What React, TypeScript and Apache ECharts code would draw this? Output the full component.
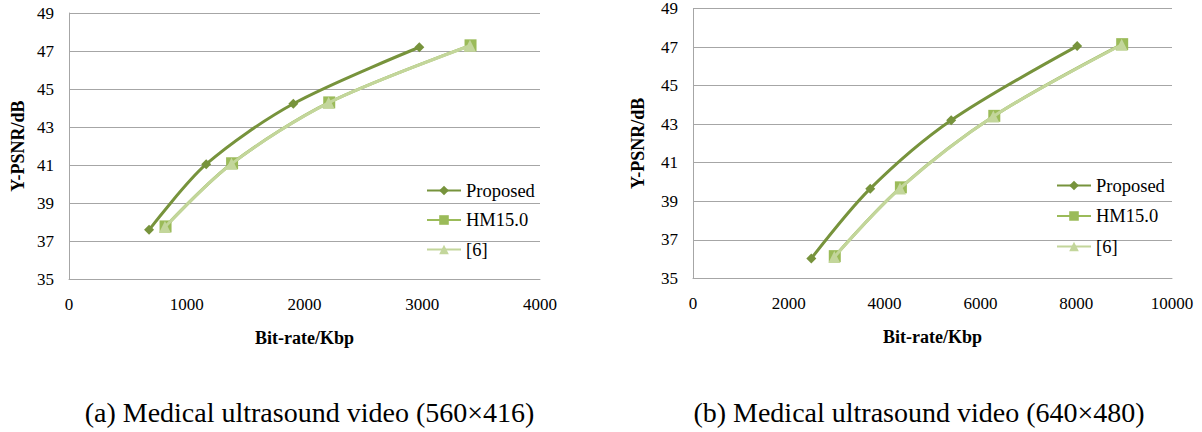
import React, { useEffect, useRef } from "react";
import * as echarts from "echarts";

// ---- data ----
const seriesNames = ["Proposed", "HM15.0", "[6]"];
const seriesColors = ["#77933C", "#9BBB59", "#C3D69B"];
const seriesSymbols = ["diamond", "rect", "triangle"];

// (a) 560x416
const aProposed = [[680, 37.6], [1165, 41.05], [1905, 44.23], [2975, 47.2]];
const aHM = [[820, 37.78], [1385, 41.1], [2210, 44.3], [3410, 47.3]];
const aRef6 = [[815, 37.75], [1380, 41.07], [2205, 44.28], [3405, 47.28]];

// (b) 640x480
const bProposed = [[2470, 36.03], [3700, 39.65], [5390, 43.2], [8020, 47.05]];
const bHM = [[2960, 36.15], [4340, 39.72], [6290, 43.43], [8960, 47.15]];
const bRef6 = [[2950, 36.1], [4320, 39.66], [6270, 43.4], [8950, 47.12]];

const yMin = 35;
const yMax = 49;
const yStep = 2;
const aXMax = 4000;
const aXStep = 1000;
const bXMax = 10000;
const bXStep = 2000;

const xName = "Bit-rate/Kbp";
const yName = "Y-PSNR/dB";
const captions = [
  "(a) Medical ultrasound video (560×416)",
  "(b) Medical ultrasound video (640×480)",
];

const FONT = "Liberation Serif";
const GRID_COLOR = "#A6A6A6";

export default function App() {
  const ref = useRef<HTMLDivElement>(null);

  useEffect(() => {
    if (!ref.current) return;
    const chart = echarts.init(ref.current, undefined, { renderer: "svg" });

    const grids = [
      { left: 69, top: 13, width: 471, height: 266.3 },
      { left: 693, top: 5.7, width: 479, height: 272.6 },
    ];

    const makeX = (gi: number, max: number, step: number, gap: number) => ({
      type: "value",
      gridIndex: gi,
      min: 0,
      max,
      interval: step,
      name: xName,
      nameLocation: "middle",
      nameGap: gap,
      nameTextStyle: { fontFamily: FONT, fontSize: 18, fontWeight: "bold", color: "#000" },
      axisLine: { show: true, lineStyle: { color: GRID_COLOR, width: 1 } },
      axisTick: { show: false },
      splitLine: { show: false },
      axisLabel: {
        fontFamily: FONT,
        fontSize: 17,
        color: "#000",
        margin: 17,
        formatter: (v: number) => String(v),
      },
    });

    const makeY = (gi: number, gap: number) => ({
      type: "value",
      gridIndex: gi,
      min: yMin,
      max: yMax,
      interval: yStep,
      name: yName,
      nameLocation: "middle",
      nameRotate: 90,
      nameGap: gap,
      nameTextStyle: { fontFamily: FONT, fontSize: 18, fontWeight: "bold", color: "#000" },
      axisLine: { show: true, lineStyle: { color: GRID_COLOR, width: 1 } },
      axisTick: { show: false },
      splitLine: { show: true, lineStyle: { color: GRID_COLOR, width: 1 } },
      axisLabel: {
        fontFamily: FONT,
        fontSize: 17,
        color: "#000",
        margin: 15,
        formatter: (v: number) => String(v),
      },
    });

    const mk = (name: string, idx: number, gi: number, data: number[][]) => ({
      type: "line",
      name,
      xAxisIndex: gi,
      yAxisIndex: gi,
      data,
      smooth: 0.3,
      symbol: seriesSymbols[idx],
      symbolSize: idx === 0 ? 10 : 12,
      showSymbol: true,
      lineStyle: { color: seriesColors[idx], width: 3 },
      itemStyle: { color: seriesColors[idx] },
      z: 2 + idx,
    });

    const legendBase = {
      orient: "vertical",
      itemWidth: 34,
      itemHeight: 12,
      padding: 0,
      textStyle: { fontFamily: FONT, fontSize: 18.5, color: "#000" },
      data: seriesNames,
    };

    chart.setOption({
      animation: false,
      backgroundColor: "#fff",
      textStyle: { fontFamily: FONT },
      grid: grids,
      xAxis: [makeX(0, aXMax, aXStep, 50), makeX(1, bXMax, bXStep, 50)],
      yAxis: [makeY(0, 42), makeY(1, 46)],
      legend: [
        { ...legendBase, left: 426, top: 181, itemGap: 10.5 },
        { ...legendBase, left: 1056, top: 176, itemGap: 11.5 },
      ],
      series: [
        mk(seriesNames[0], 0, 0, aProposed),
        mk(seriesNames[1], 1, 0, aHM),
        mk(seriesNames[2], 2, 0, aRef6),
        mk(seriesNames[0], 0, 1, bProposed),
        mk(seriesNames[1], 1, 1, bHM),
        mk(seriesNames[2], 2, 1, bRef6),
      ],
      graphic: [
        {
          type: "text",
          x: 309.5,
          y: 412,
          style: {
            text: captions[0],
            fontFamily: FONT,
            fontSize: 28,
            fill: "#000",
            textAlign: "center",
            textVerticalAlign: "middle",
          },
        },
        {
          type: "text",
          x: 919,
          y: 412,
          style: {
            text: captions[1],
            fontFamily: FONT,
            fontSize: 28,
            fill: "#000",
            textAlign: "center",
            textVerticalAlign: "middle",
          },
        },
      ],
    });

    return () => chart.dispose();
  }, []);

  return (
    <div
      ref={ref}
      style={{ position: "fixed", left: 0, top: 0, width: 1202, height: 432, background: "#fff" }}
    />
  );
}
